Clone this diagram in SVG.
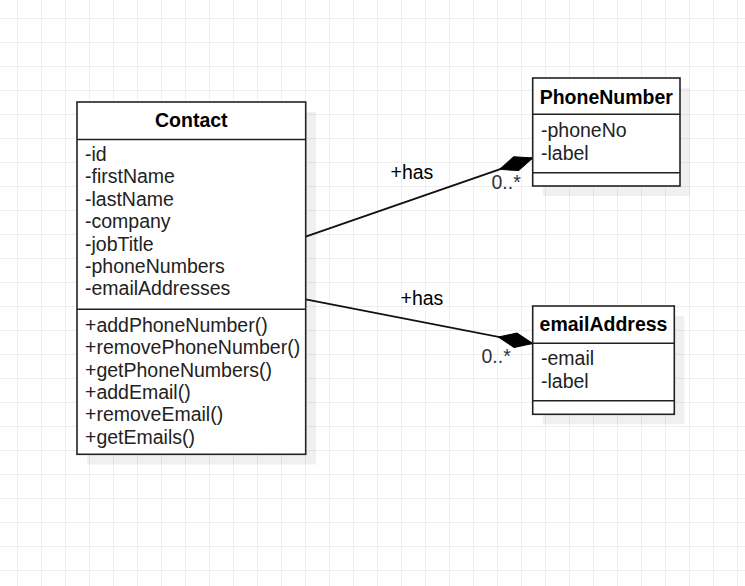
<svg xmlns="http://www.w3.org/2000/svg" width="745" height="586" viewBox="0 0 745 586">
  <style>
    .box { fill: #ffffff; stroke: #222222; stroke-width: 1.6; }
    .shadow { fill: #000000; fill-opacity: 0.06; }
    .div { stroke: #222222; stroke-width: 1.6; fill: none; }
    .title { font-family: "Liberation Sans", Arial, sans-serif; font-size: 19.5px; font-weight: bold; fill: #000000; text-anchor: middle; }
    .attr { font-family: "Liberation Sans", Arial, sans-serif; font-size: 19.5px; fill: #222222; }
    .lbl { font-family: "Liberation Sans", Arial, sans-serif; font-size: 19.5px; fill: #000000; }
    .mult { font-family: "Liberation Sans", Arial, sans-serif; font-size: 19.5px; fill: #333333; }
    .edge { stroke: #111111; stroke-width: 1.8; fill: none; }
  </style>
  <defs>
    <pattern id="grid" x="17" y="18" width="24" height="24" patternUnits="userSpaceOnUse">
      <path d="M0 0.5 H24 M0.5 0 V24" stroke="#eeeeee" stroke-width="1" fill="none"/>
    </pattern>
    <marker id="diamond" markerUnits="userSpaceOnUse" markerWidth="38" markerHeight="18" viewBox="0 -9 38 18" refX="35" refY="0" orient="auto">
      <path d="M0 0 L17.5 -7.3 L35 0 L17.5 7.3 Z" fill="#000000" stroke="#000000" stroke-width="1"/>
    </marker>
  </defs>
  <rect x="0" y="0" width="745" height="586" fill="#ffffff"/>
  <rect x="0" y="0" width="745" height="586" fill="url(#grid)"/>

  <g id="connectors">
    <line class="edge" x1="305.7" y1="236.7" x2="532.7" y2="157.9" marker-end="url(#diamond)"/>
    <line class="edge" x1="305.7" y1="299.3" x2="532.7" y2="343.6" marker-end="url(#diamond)"/>
    <text class="lbl" x="390.5" y="179.3">+has</text>
    <text class="mult" x="491.5" y="189.3">0..*</text>
    <text class="lbl" x="400.5" y="305">+has</text>
    <text class="mult" x="481.5" y="362.7">0..*</text>
  </g>

  <g id="contact">
    <rect class="shadow" x="87" y="112" width="229" height="352.5"/>
    <rect class="box" x="77" y="102" width="228.7" height="352.3"/>
    <line class="div" x1="77" y1="139.5" x2="305.7" y2="139.5"/>
    <line class="div" x1="77" y1="309.3" x2="305.7" y2="309.3"/>
    <text class="title" x="191.3" y="126.8">Contact</text>
    <text class="attr" x="85" y="161">-id</text>
    <text class="attr" x="85" y="183.4">-firstName</text>
    <text class="attr" x="85" y="205.8">-lastName</text>
    <text class="attr" x="85" y="228.2">-company</text>
    <text class="attr" x="85" y="250.6">-jobTitle</text>
    <text class="attr" x="85" y="273">-phoneNumbers</text>
    <text class="attr" x="85" y="295.4">-emailAddresses</text>
    <text class="attr" x="85" y="331.7">+addPhoneNumber()</text>
    <text class="attr" x="85" y="354.1">+removePhoneNumber()</text>
    <text class="attr" x="85" y="376.5">+getPhoneNumbers()</text>
    <text class="attr" x="85" y="398.9">+addEmail()</text>
    <text class="attr" x="85" y="421.3">+removeEmail()</text>
    <text class="attr" x="85" y="443.7">+getEmails()</text>
  </g>

  <g id="phoneNumber">
    <rect class="shadow" x="542.7" y="88" width="147.3" height="108"/>
    <rect class="box" x="532.7" y="78" width="147.3" height="108"/>
    <line class="div" x1="532.7" y1="114.3" x2="680" y2="114.3"/>
    <line class="div" x1="532.7" y1="172.7" x2="680" y2="172.7"/>
    <text class="title" x="606.3" y="103.5">PhoneNumber</text>
    <text class="attr" x="541" y="136.7">-phoneNo</text>
    <text class="attr" x="541" y="160">-label</text>
  </g>

  <g id="emailAddress">
    <rect class="shadow" x="542.7" y="316" width="141.6" height="108.3"/>
    <rect class="box" x="532.7" y="306" width="141.6" height="108.3"/>
    <line class="div" x1="532.7" y1="343.3" x2="674.3" y2="343.3"/>
    <line class="div" x1="532.7" y1="400.7" x2="674.3" y2="400.7"/>
    <text class="title" x="603.5" y="331.2">emailAddress</text>
    <text class="attr" x="541" y="365">-email</text>
    <text class="attr" x="541" y="388.3">-label</text>
  </g>
</svg>
